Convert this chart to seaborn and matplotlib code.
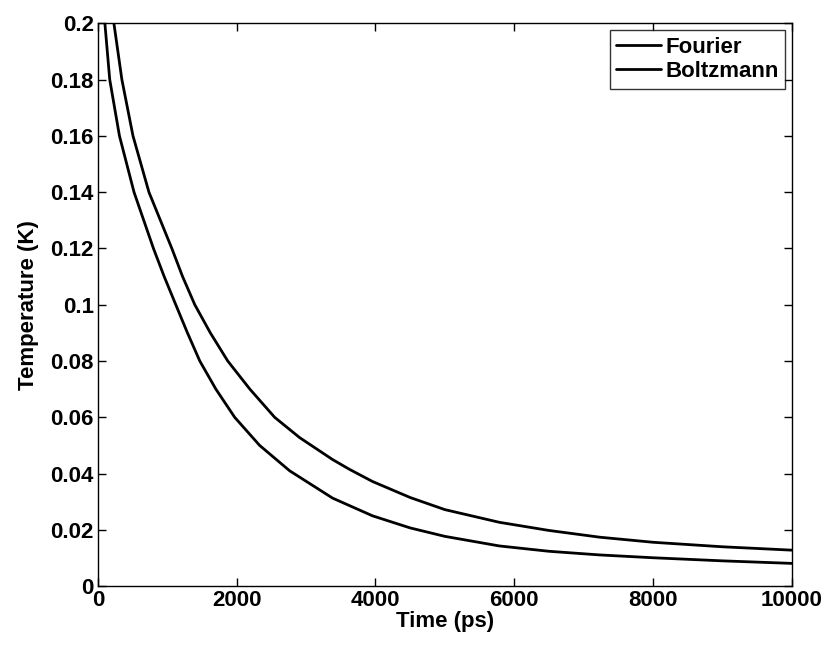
import numpy as np
import pandas as pd
import matplotlib
matplotlib.use("Agg")
import matplotlib.pyplot as plt
import seaborn as sns

# values
fourier_t = [100, 170, 310, 520, 800, 955, 1122, 1290, 1468, 1700, 1971, 2331, 2763, 3381, 3957,
             4500, 5000, 5784, 6500, 7233, 8000, 9000, 10000]
fourier_T = [0.200, 0.180, 0.160, 0.140, 0.120, 0.110, 0.100, 0.090, 0.080, 0.070, 0.060, 0.0500,
             0.0410, 0.0313, 0.0250, 0.0207, 0.0177, 0.0143, 0.0124, 0.0111, 0.0101, 0.0090, 0.0081]
boltz_t = [230, 345, 505, 735, 1065, 1220, 1396, 1620, 1871, 2190, 2547, 2906, 3381, 3626, 3957,
           4500, 5000, 5784, 6500, 7233, 8000, 9000, 10000]
boltz_T = [0.200, 0.180, 0.160, 0.140, 0.120, 0.110, 0.100, 0.090, 0.080, 0.070, 0.060, 0.0528,
           0.0450, 0.0415, 0.0372, 0.0315, 0.0272, 0.0227, 0.0198, 0.0174, 0.0156, 0.0140, 0.0128]

x_ticks = [0, 2000, 4000, 6000, 8000, 10000]
y_ticks = [0, 0.02, 0.04, 0.06, 0.08, 0.1, 0.12, 0.14, 0.16, 0.18, 0.2]
y_labels = ["0", "0.02", "0.04", "0.06", "0.08", "0.1", "0.12", "0.14", "0.16", "0.18", "0.2"]

df = pd.concat([
    pd.DataFrame({"time": fourier_t, "temp": fourier_T, "model": "Fourier"}),
    pd.DataFrame({"time": boltz_t, "temp": boltz_T, "model": "Boltzmann"}),
], ignore_index=True)

sns.set_theme(style="ticks")
plt.rcParams["font.family"] = ["Liberation Sans", "DejaVu Sans"]
plt.rcParams["font.weight"] = "bold"
plt.rcParams["text.color"] = "black"
plt.rcParams["axes.labelcolor"] = "black"
plt.rcParams["xtick.color"] = "black"
plt.rcParams["ytick.color"] = "black"
plt.rcParams["xtick.direction"] = "in"
plt.rcParams["ytick.direction"] = "in"
plt.rcParams["lines.solid_joinstyle"] = "round"

fig = plt.figure(figsize=(8.3, 6.47), dpi=100)
ax = fig.add_axes([0.118, 0.094, 0.836, 0.870])

sns.lineplot(data=df, x="time", y="temp", hue="model", palette=["black", "black"],
             linewidth=2.0, ax=ax, sort=True)

ax.set_xlim(0, 10000)
ax.set_ylim(0, 0.2)
ax.set_xticks(x_ticks)
ax.set_xticklabels([str(v) for v in x_ticks])
ax.set_yticks(y_ticks)
ax.set_yticklabels(y_labels)
ax.tick_params(axis="both", which="major", labelsize=16, length=6, width=1,
               top=True, right=True, colors="black", pad=3)
for lab in ax.get_xticklabels() + ax.get_yticklabels():
    lab.set_fontweight("bold")
for s in ax.spines.values():
    s.set_color("black")
    s.set_linewidth(1.0)

ax.set_xlabel("Time (ps)", fontsize=16, fontweight="bold", labelpad=0, color="black")
ax.set_ylabel("Temperature (K)", fontsize=16, fontweight="bold", labelpad=8, color="black")

leg = ax.legend(loc="upper right", fontsize=16, frameon=True, fancybox=False,
                handlelength=2.0, handletextpad=0.2, borderpad=0.3, labelspacing=0.15,
                borderaxespad=0.3)
leg.get_frame().set_edgecolor("black")
leg.get_frame().set_linewidth(1.0)
for t in leg.get_texts():
    t.set_fontweight("bold")
    t.set_color("black")

fig.savefig("out.png", dpi=100)
